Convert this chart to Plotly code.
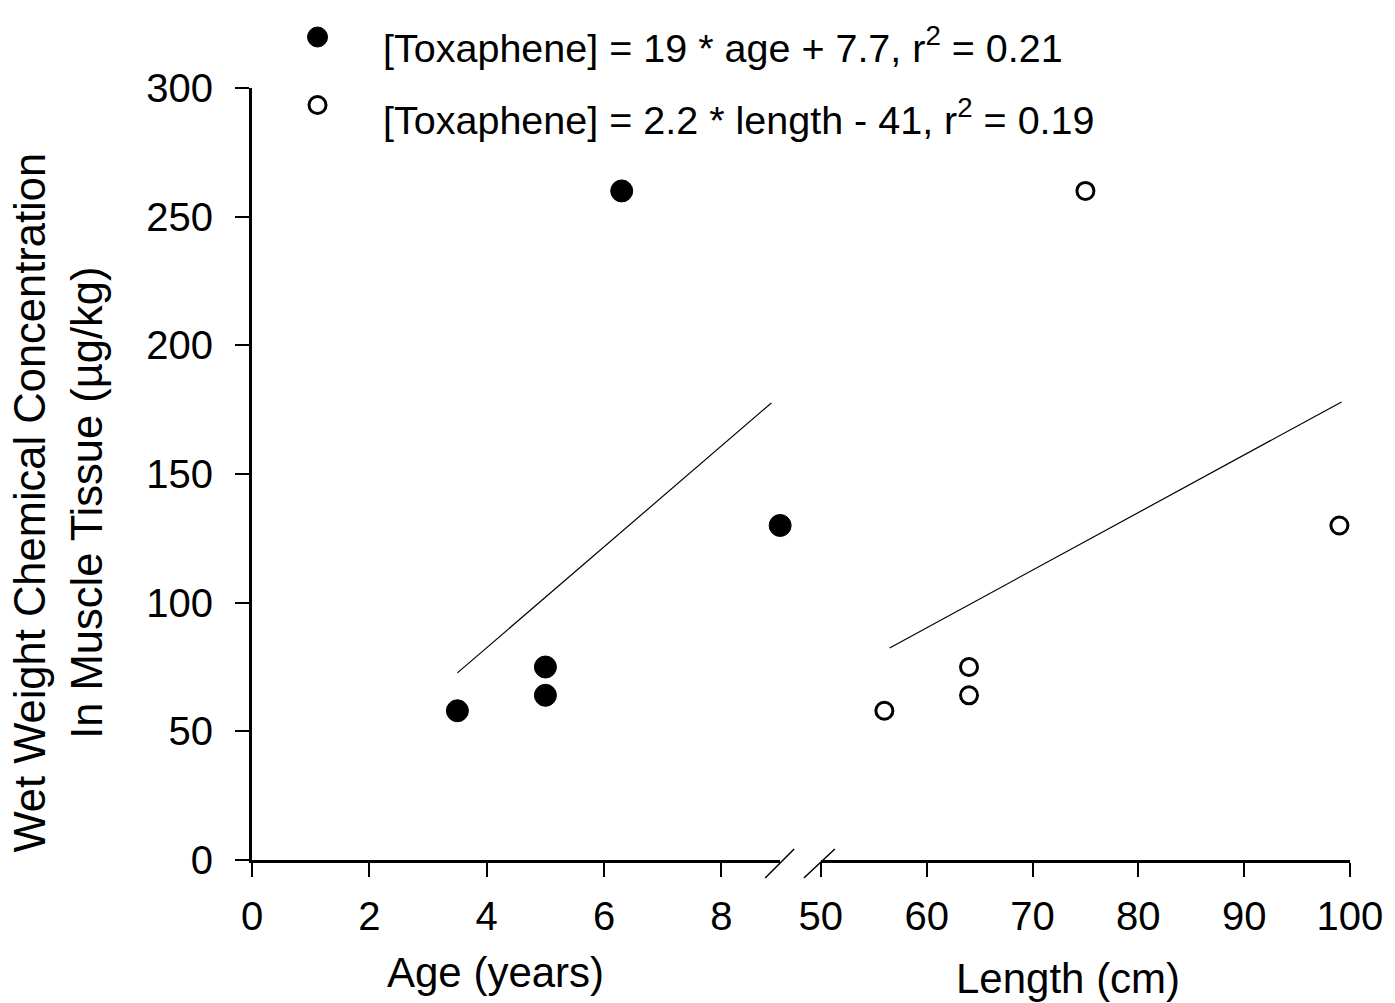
import plotly.graph_objects as go

# ---- data ----
age = [3.5, 5.0, 5.0, 6.3, 9.0]
length_cm = [56, 64, 64, 75, 99]
conc = [58, 75, 64, 260, 130]

age_fit_x = [3.5, 8.85]
age_fit_y = [72.7, 177.6]
len_fit_x = [56.5, 99.2]
len_fit_y = [82.4, 178.0]

age_ticks = [0, 2, 4, 6, 8]
len_ticks = [50, 60, 70, 80, 90, 100]
y_ticks = [0, 50, 100, 150, 200, 250, 300]

legend_labels = [
    "[Toxaphene] = 19 * age + 7.7, r<sup>2</sup> = 0.21",
    "[Toxaphene] = 2.2 * length - 41, r<sup>2</sup> = 0.19",
]

FONT = "Arial, Liberation Sans, sans-serif"
W, H = 1395, 1003
L, R, T, B = 252, 37, 88, 143
PW = W - L - R
PH = H - T - B


def px_x(p):
    return (p - L) / PW


def px_y(p):
    return (H - B - p) / PH


fig = go.Figure()

fig.add_trace(go.Scatter(x=age_fit_x, y=age_fit_y, mode="lines",
                         line=dict(color="black", width=1.2),
                         xaxis="x", yaxis="y", showlegend=False))
fig.add_trace(go.Scatter(x=len_fit_x, y=len_fit_y, mode="lines",
                         line=dict(color="black", width=1.2),
                         xaxis="x2", yaxis="y", showlegend=False))
fig.add_trace(go.Scatter(x=age, y=conc, mode="markers",
                         marker=dict(symbol="circle", size=22, color="black",
                                     line=dict(color="black", width=1)),
                         cliponaxis=False, xaxis="x", yaxis="y", showlegend=False))
fig.add_trace(go.Scatter(x=length_cm, y=conc, mode="markers",
                         marker=dict(symbol="circle", size=17, color="white",
                                     line=dict(color="black", width=3)),
                         cliponaxis=False, xaxis="x2", yaxis="y", showlegend=False))

axis_common = dict(showgrid=False, zeroline=False, showline=True,
                   linecolor="black", linewidth=3, ticks="outside",
                   ticklen=14, tickwidth=2, tickcolor="black",
                   ticklabeloverflow="allow",
                   tickfont=dict(family=FONT, size=40, color="black"))

x1_end = px_x(784)
x2_start = px_x(825)

fig.update_layout(
    width=W, height=H, autosize=False,
    margin=dict(l=L, r=R, t=T, b=B, pad=0),
    paper_bgcolor="white", plot_bgcolor="white",
    font=dict(family=FONT, color="black"),
    xaxis=dict(domain=[0, x1_end], range=[0, 9], tickvals=age_ticks,
               anchor="y", ticklabelstandoff=5, **axis_common),
    xaxis2=dict(domain=[x2_start, 1], range=[50, 100], tickvals=len_ticks,
                anchor="y", ticklabelstandoff=5, **axis_common),
    yaxis=dict(domain=[0, 1], range=[0, 300], tickvals=y_ticks,
               anchor="x", ticklabelstandoff=14, **axis_common),
)

annotations = [
    dict(text="Age (years)", x=px_x(497), y=px_y(972), xref="paper", yref="paper",
         xanchor="center", yanchor="middle", showarrow=False,
         font=dict(family=FONT, size=42, color="black")),
    dict(text="Length (cm)", x=px_x(1074), y=px_y(978), xref="paper", yref="paper",
         xanchor="center", yanchor="middle", showarrow=False,
         font=dict(family=FONT, size=42, color="black")),
    dict(text="Wet Weight Chemical Concentration<br>In Muscle Tissue (µg/kg)",
         x=px_x(57), y=px_y(502), xref="paper", yref="paper",
         xanchor="center", yanchor="middle", textangle=-90, showarrow=False,
         font=dict(family=FONT, size=43.5, color="black")),
    dict(text=legend_labels[0], x=px_x(382), y=px_y(45), xref="paper", yref="paper",
         xanchor="left", yanchor="middle", showarrow=False,
         font=dict(family=FONT, size=39.5, color="black")),
    dict(text=legend_labels[1], x=px_x(382), y=px_y(117), xref="paper", yref="paper",
         xanchor="left", yanchor="middle", showarrow=False,
         font=dict(family=FONT, size=39.5, color="black")),
]
fig.update_layout(annotations=annotations)

shapes = [
    # legend markers
    dict(type="circle", xref="paper", yref="paper",
         xsizemode="pixel", ysizemode="pixel",
         xanchor=px_x(318), yanchor=px_y(37),
         x0=-10, x1=10, y0=-10, y1=10,
         fillcolor="black", line=dict(color="black", width=1)),
    dict(type="circle", xref="paper", yref="paper",
         xsizemode="pixel", ysizemode="pixel",
         xanchor=px_x(318), yanchor=px_y(105),
         x0=-8.5, x1=8.5, y0=-8.5, y1=8.5,
         fillcolor="white", line=dict(color="black", width=3)),
    # axis break marks
    dict(type="line", xref="paper", yref="paper", xsizemode="pixel", ysizemode="pixel",
         xanchor=x1_end, yanchor=0, x0=-15, x1=14, y0=-18, y1=11,
         line=dict(color="black", width=1.5)),
    dict(type="line", xref="paper", yref="paper", xsizemode="pixel", ysizemode="pixel",
         xanchor=x2_start, yanchor=0, x0=-17, x1=14, y0=-18, y1=11,
         line=dict(color="black", width=1.5)),
]
fig.update_layout(shapes=shapes)

fig.write_html(
    "out.html",
    config={"displayModeBar": False},
    post_script=(
        "document.body.style.margin='0';"
        "document.body.style.overflow='hidden';"
        "document.documentElement.style.overflow='hidden';"
    ),
)
